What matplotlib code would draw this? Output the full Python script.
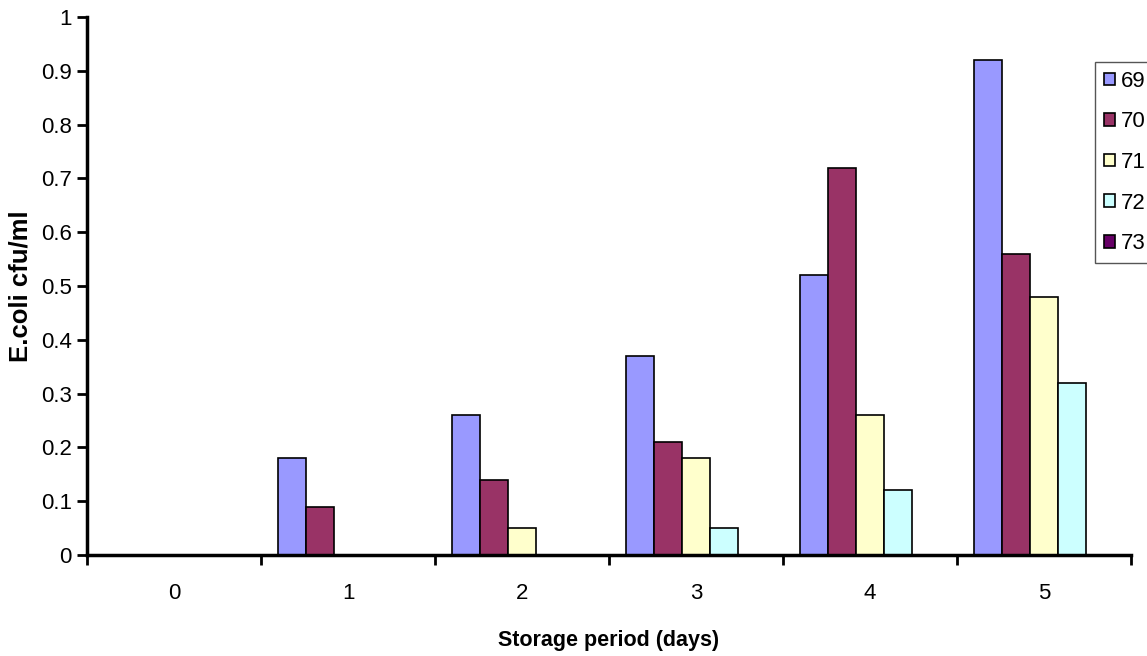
import numpy as np
import matplotlib.pyplot as plt

plt.rcParams['font.family'] = ['Liberation Sans', 'DejaVu Sans']

# dados
dias = ['0', '1', '2', '3', '4', '5']
series = ['69', '70', '71', '72', '73']
v69 = [0, 0.18, 0.26, 0.37, 0.52, 0.92]
v70 = [0, 0.09, 0.14, 0.21, 0.72, 0.56]
v71 = [0, 0, 0.05, 0.18, 0.26, 0.48]
v72 = [0, 0, 0, 0.05, 0.12, 0.32]
v73 = [0, 0, 0, 0, 0, 0]
valores = [v69, v70, v71, v72, v73]
cores = ['#9999FF', '#993366', '#FFFFCC', '#CCFFFF', '#660066']

fig = plt.figure(figsize=(11.47, 6.56), dpi=100)
ax = fig.add_axes([87 / 1147, 101 / 656, 1044 / 1147, 538 / 656])

x = np.arange(len(dias))
largura = 0.16
for i, (vals, cor, nome) in enumerate(zip(valores, cores, series)):
    ax.bar(x + (i - 2) * largura, vals, largura, color=cor, edgecolor='black',
           linewidth=1.2, label=nome, zorder=3)

ax.set_xlim(-0.5, len(dias) - 0.5)
ax.set_ylim(0, 1)
ax.set_yticks(np.arange(0, 1.01, 0.1))
ax.set_yticklabels(['0', '0.1', '0.2', '0.3', '0.4', '0.5', '0.6', '0.7', '0.8', '0.9', '1'])

# ticks do eixo x nas fronteiras das categorias
ax.set_xticks(np.arange(-0.5, len(dias), 1.0))
ax.set_xticklabels([])
ax.set_xticks(x, minor=True)
ax.set_xticklabels(dias, minor=True)
ax.tick_params(axis='x', which='minor', length=0, pad=20, labelsize=16)
ax.tick_params(axis='x', which='major', direction='out', length=7, width=2)
ax.tick_params(axis='y', direction='out', length=7, width=2, labelsize=16, pad=4)

for lado in ['top', 'right']:
    ax.spines[lado].set_visible(False)
for lado in ['left', 'bottom']:
    ax.spines[lado].set_linewidth(2.5)
    ax.spines[lado].set_zorder(4)

ax.set_xlabel('Storage period (days)', fontsize=15.5, fontweight='bold')
ax.set_ylabel('E.coli cfu/ml', fontsize=18.5, fontweight='bold')
ax.xaxis.set_label_coords(0.5, (555 - 630) / 538)
ax.yaxis.set_label_coords((32 - 87) / 1044, 0.5)

leg = fig.legend(loc='upper left', bbox_to_anchor=(1095 / 1147, 1 - 62 / 656),
                 borderaxespad=0, fontsize=16, handlelength=0.5, handleheight=0.5,
                 handletextpad=0.25, labelspacing=0.88, borderpad=0.4,
                 fancybox=False, framealpha=1)
leg.get_frame().set_edgecolor('#555555')
leg.get_frame().set_linewidth(1)

fig.savefig('out.png', dpi=100)
